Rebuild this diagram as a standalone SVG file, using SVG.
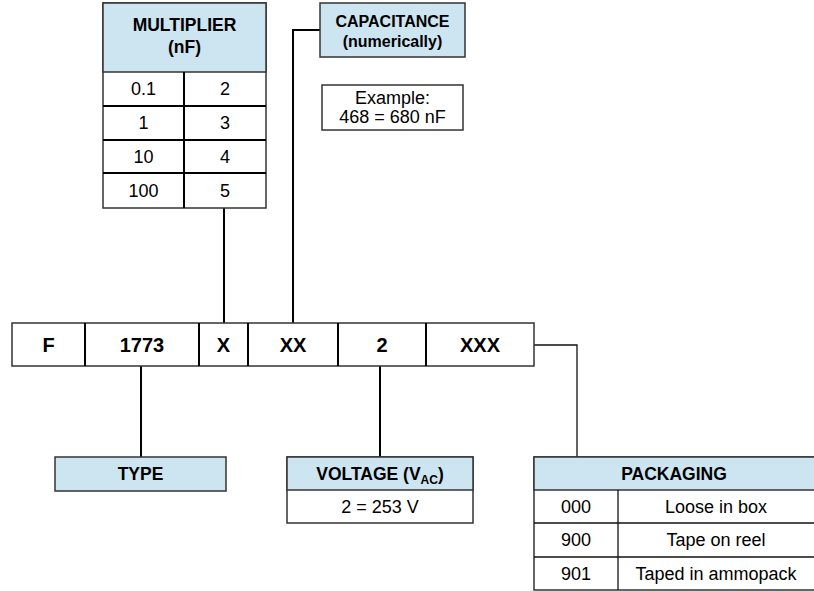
<svg xmlns="http://www.w3.org/2000/svg" width="814" height="591" viewBox="0 0 814 591">
<style>
  text { font-family: "Liberation Sans", Arial, Helvetica, sans-serif; fill: #000; text-anchor: middle; }
  .b { font-weight: bold; font-size: 17.5px; }
  .bc { font-weight: bold; font-size: 16px; }
  .r { font-size: 18px; }
  .code { font-weight: bold; font-size: 20px; }
  .hdr { fill: #cde4f1; stroke: #333; stroke-width: 1.5; }
  .cell { fill: #fff; stroke: #333; stroke-width: 1.5; }
  .in { stroke: #000; stroke-width: 2; fill: none; }
  .thin { stroke: #111; stroke-width: 1.3; fill: none; }
  .conn { stroke: #000; stroke-width: 2; fill: none; }
</style>
<rect width="814" height="591" fill="#fff"/>

<g id="connectors">
  <line class="conn" x1="224" y1="208" x2="224" y2="323"/>
  <polyline class="conn" points="320,30 293,30 293,323"/>
  <line class="conn" x1="141" y1="366" x2="141" y2="457"/>
  <line class="conn" x1="380" y1="366" x2="380" y2="457"/>
  <polyline class="thin" points="534,345 577,345 577,457"/>
</g>

<g id="multiplier">
  <rect class="cell" x="103" y="3" width="163" height="205"/>
  <rect class="hdr" x="103" y="3" width="163" height="69"/>
  <line class="in" x1="103" y1="106" x2="266" y2="106"/>
  <line class="in" x1="103" y1="140" x2="266" y2="140"/>
  <line class="in" x1="103" y1="173" x2="266" y2="173"/>
  <line class="in" x1="184" y1="72" x2="184" y2="208"/>
  <text class="b" x="184.5" y="31">MULTIPLIER</text>
  <text class="b" x="184.5" y="53">(nF)</text>
  <text class="r" x="143.5" y="95">0.1</text>
  <text class="r" x="225" y="95">2</text>
  <text class="r" x="143.5" y="129">1</text>
  <text class="r" x="225" y="129">3</text>
  <text class="r" x="143.5" y="163">10</text>
  <text class="r" x="225" y="163">4</text>
  <text class="r" x="143.5" y="197">100</text>
  <text class="r" x="225" y="197">5</text>
</g>

<g id="capacitance">
  <rect class="hdr" x="320" y="3" width="145" height="54"/>
  <text class="bc" x="392.5" y="27">CAPACITANCE</text>
  <text class="bc" x="392.5" y="47">(numerically)</text>
</g>

<g id="example">
  <rect class="cell" x="322" y="85" width="141" height="45"/>
  <text class="r" x="392.5" y="104">Example:</text>
  <text class="r" x="392.5" y="123">468 = 680 nF</text>
</g>

<g id="code">
  <rect class="cell" x="12" y="323" width="522" height="43"/>
  <line class="in" x1="85" y1="323" x2="85" y2="366"/>
  <line class="in" x1="199" y1="323" x2="199" y2="366"/>
  <line class="in" x1="248" y1="323" x2="248" y2="366"/>
  <line class="in" x1="338" y1="323" x2="338" y2="366"/>
  <line class="in" x1="426" y1="323" x2="426" y2="366"/>
  <text class="code" x="48.5" y="352">F</text>
  <text class="code" x="142" y="352">1773</text>
  <text class="code" x="223.5" y="352">X</text>
  <text class="code" x="293" y="352">XX</text>
  <text class="code" x="382" y="352">2</text>
  <text class="code" x="480" y="352">XXX</text>
</g>

<g id="type">
  <rect class="hdr" x="55" y="457" width="171" height="34"/>
  <text class="b" x="140.5" y="480">TYPE</text>
</g>

<g id="voltage">
  <rect class="cell" x="287" y="457" width="186" height="66"/>
  <rect class="hdr" x="287" y="457" width="186" height="33"/>
  <text class="b" x="380" y="480">VOLTAGE (V<tspan font-size="12" dy="4">AC</tspan><tspan dy="-4">)</tspan></text>
  <text class="r" x="380" y="513">2 = 253 V</text>
</g>

<g id="packaging">
  <rect class="cell" x="534" y="457" width="290" height="133"/>
  <rect class="hdr" x="534" y="457" width="290" height="33"/>
  <line class="thin" x1="534" y1="523" x2="814" y2="523"/>
  <line class="thin" x1="534" y1="557" x2="814" y2="557"/>
  <line class="thin" x1="618" y1="490" x2="618" y2="590"/>
  <text class="b" x="674" y="480">PACKAGING</text>
  <text class="r" x="576" y="513">000</text>
  <text class="r" x="716" y="513">Loose in box</text>
  <text class="r" x="576" y="546">900</text>
  <text class="r" x="716" y="546">Tape on reel</text>
  <text class="r" x="576" y="580">901</text>
  <text class="r" x="716" y="580">Taped in ammopack</text>
</g>
</svg>
